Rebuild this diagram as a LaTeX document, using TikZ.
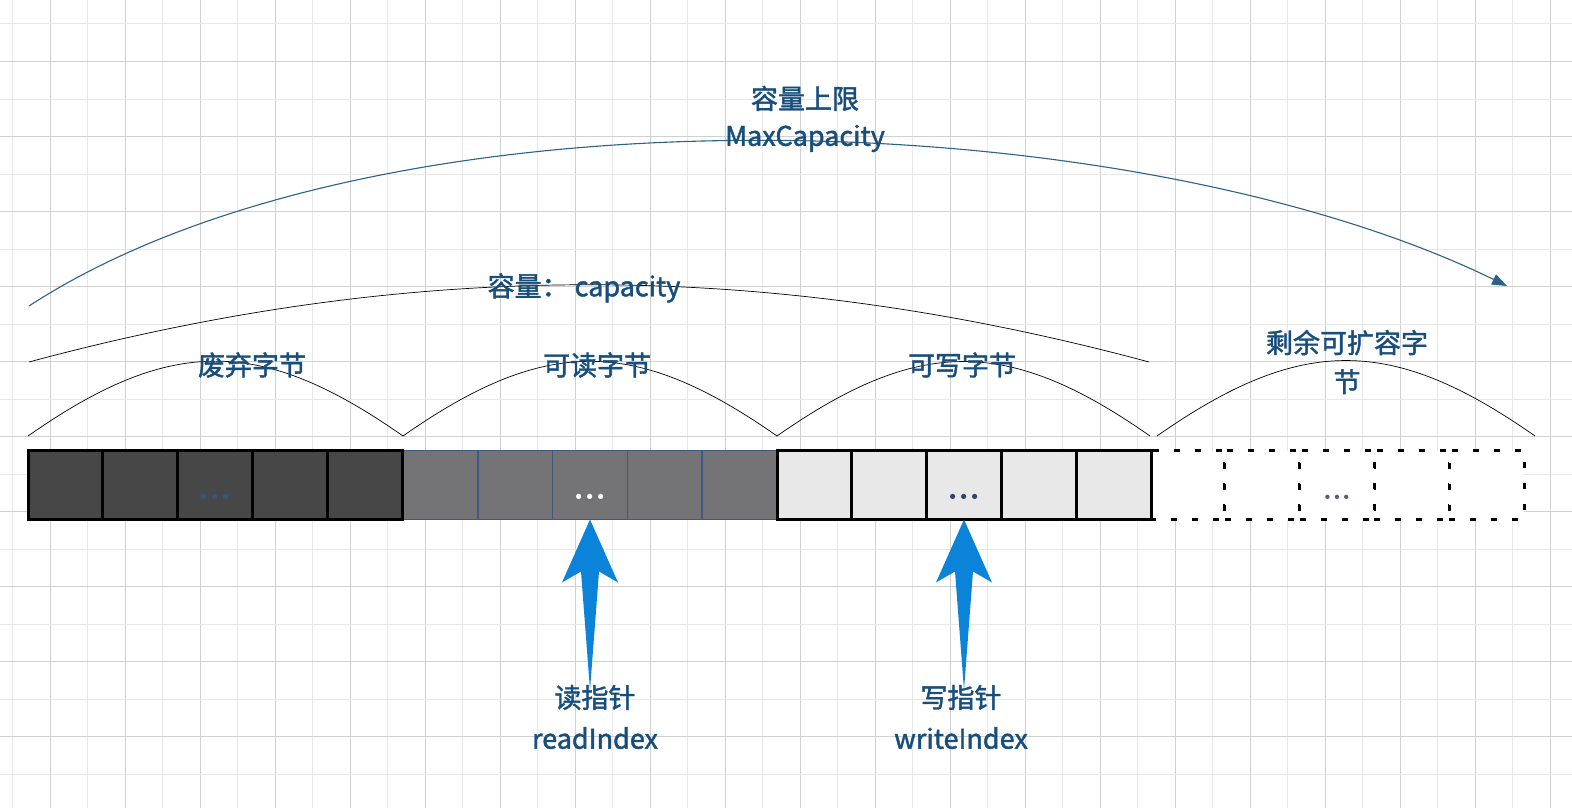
\documentclass[tikz,border=0pt]{standalone}
\usepackage{fontspec}
\usepackage{tikz}
\usetikzlibrary{arrows.meta,calc}
\newfontfamily\cjk[FakeBold=1.6]{Noto Sans CJK SC}
\definecolor{textblue}{RGB}{24,78,124}
\definecolor{maxblue}{RGB}{44,98,136}
\definecolor{ptrblue}{RGB}{10,131,216}
\definecolor{darkcell}{RGB}{71,71,71}
\definecolor{midcell}{RGB}{116,116,118}
\definecolor{midedge}{RGB}{62,90,130}
\definecolor{lightcell}{RGB}{232,232,232}
\definecolor{gridminor}{RGB}{232,232,232}
\definecolor{gridmajor}{RGB}{208,208,208}
\tikzset{
    every node/.style={inner sep=0pt, outer sep=0pt},
    cell/.style={rectangle, minimum width=74.8pt, minimum height=69pt},
    discard/.style={cell, fill=darkcell, draw=black, line width=3pt},
    readable/.style={cell, fill=midcell, draw=midedge, line width=1.5pt},
    writable/.style={cell, fill=lightcell, draw=black, line width=3pt},
    spare/.style={cell, fill=white, draw=black, line width=3pt,
        dash pattern=on 6pt off 15pt},
    dots/.style={font=\bfseries\fontsize{36}{36}\selectfont,
        text height=28pt, text depth=0pt}
}
\tikzset{
    bytetext/.style={font=\cjk\fontsize{27}{39}\selectfont, text=textblue,
        align=center},
    spanarc/.style={draw=black, line width=0.7pt},
    maxarc/.style={draw=maxblue, line width=1.1pt,
        -{Triangle[length=15pt, width=11pt]}}
}
\newcommand{\pointer}[2]{%
  \fill[ptrblue] (#1) -- ($(#1)+(28,63)$) -- ($(#1)+(9,52)$) -- (#2)
    -- ($(#1)+(-9,52)$) -- ($(#1)+(-28,63)$) -- cycle;
}
\pgfdeclarelayer{background}
\pgfsetlayers{background,main}
\begin{document}
\begin{tikzpicture}[x=1pt, y=-1pt]
  \useasboundingbox (0,0) rectangle (1572,808);
  \begin{pgfonlayer}{background}
    \fill[white] (0,0) rectangle (1572,808);
    \foreach \k in {0,...,20} {
      \draw[gridminor, line width=1pt] (12.5+75*\k,0) -- (12.5+75*\k,808);
      \draw[gridmajor, line width=1pt] (50+75*\k,0) -- (50+75*\k,808);
    }
    \foreach \k in {0,...,10}
      \draw[gridminor, line width=1pt] (0,24+75*\k) -- (1572,24+75*\k);
    \foreach \k in {0,...,9}
      \draw[gridmajor, line width=1pt] (0,61.5+75*\k) -- (1572,61.5+75*\k);
  \end{pgfonlayer}

  % byte cells
  \foreach \i in {0,1,3,4}
    \node (r\i) [readable] at (440.4+74.8*\i, 485) {};
  \node (r2) [readable, dots, text=white] at (590, 485) {...};
  \foreach \i in {0,1,3,4}
    \node (s\i) [spare] at (1187.4+74.8*\i, 485) {};
  \node (s2) [spare, dots, text={rgb,255:red,80;green,96;blue,122},
    font=\bfseries\fontsize{30}{30}\selectfont] at (1337, 485) {...};
  \foreach \i in {0,1,3,4}
    \node (d\i) [discard] at (65.4+74.8*\i, 485) {};
  \node (d2) [discard, dots, text={rgb,255:red,60;green,86;blue,122}] at (215, 485) {...};
  \foreach \i in {0,1,3,4}
    \node (w\i) [writable] at (814.4+74.8*\i, 485) {};
  \node (w2) [writable, dots, text={rgb,255:red,44;green,70;blue,104}] at (964, 485) {...};

  % arcs over the groups
  \coordinate (a0) at (28,436);
  \coordinate (a1) at (403,436);
  \coordinate (a2) at (777,436);
  \coordinate (a3) at (1150,436);
  \coordinate (a4) at (1157,436);
  \coordinate (a5) at (1535,436);
  \draw[spanarc] (a0) to[bend left=35, looseness=1.19] (a1);
  \draw[spanarc] (a1) to[bend left=35, looseness=1.19] (a2);
  \draw[spanarc] (a2) to[bend left=35, looseness=1.19] (a3);
  \draw[spanarc] (a4) to[bend left=35, looseness=1.19] (a5);

  \coordinate (c0) at (29,362);
  \coordinate (c1) at (1149,362);
  \draw[spanarc] (c0) .. controls (412,259) and (766,259) .. (c1);

  \coordinate (m0) at (29,306);
  \coordinate (m1) at (1507,286);
  \draw[maxarc] (m0) .. controls (381,77) and (1130,102) .. (m1);

  % labels
  \node (tdiscard) [bytetext] at (252,365) {废弃字节};
  \node (tread) [bytetext] at (597,365) {可读字节};
  \node (twrite) [bytetext] at (962,365) {可写字节};
  \node (tspare) [bytetext] at (1347,362) {剩余可扩容字\\节};
  \node (tcap) [bytetext] at (584,288) {容量： capacity};
  \node (tmax) [bytetext, font=\cjk\fontsize{27}{37}\selectfont] at (805,119) {容量上限\\MaxCapacity};
  \node (rname) [bytetext, font=\cjk\fontsize{27}{41}\selectfont] at (595,717) {读指针\\readIndex};
  \node (wname) [bytetext, font=\cjk\fontsize{27}{41}\selectfont] at (961,717) {写指针\\writeIndex};

  % pointers
  \coordinate (rtail) at (590,690);
  \coordinate (wtail) at (964,690);
  \pointer{r2.south}{rtail}
  \pointer{w2.south}{wtail}
\end{tikzpicture}
\end{document}
